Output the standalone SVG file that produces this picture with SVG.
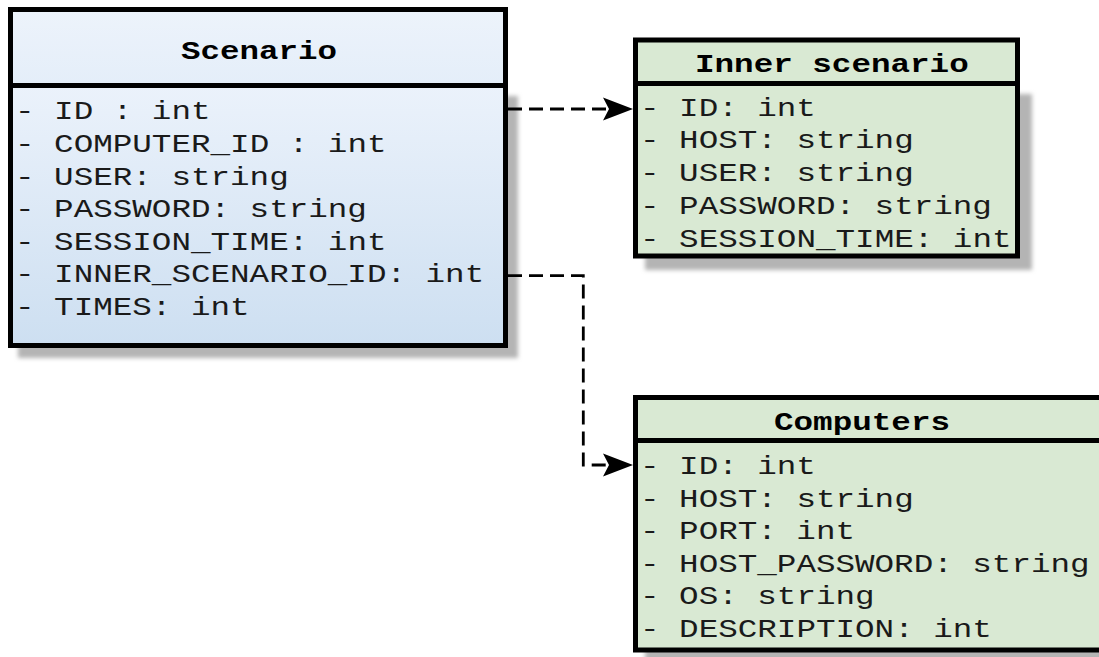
<svg xmlns="http://www.w3.org/2000/svg" width="1099" height="657" viewBox="0 0 1099 657">
  <defs>
    <linearGradient id="blueBody" x1="0" y1="0" x2="0" y2="1">
      <stop offset="0" stop-color="#ebf2fb"/>
      <stop offset="1" stop-color="#cddff1"/>
    </linearGradient>
    <linearGradient id="blueHead" x1="0" y1="0" x2="0" y2="1">
      <stop offset="0" stop-color="#edf3fb"/>
      <stop offset="1" stop-color="#e4eef9"/>
    </linearGradient>
    <filter id="soft" x="-10%" y="-10%" width="120%" height="120%">
      <feGaussianBlur stdDeviation="2.2"/>
    </filter>
    <marker id="arrow" markerUnits="userSpaceOnUse" markerWidth="32" markerHeight="26" refX="30" refY="12" orient="auto">
      <path d="M0,0.5 L30,12 L0,23.5 L6,12 Z" fill="#000"/>
    </marker>
  </defs>
  <style>
    .shadow { fill: #b4b4b4; filter: url(#soft); }
    .frame { fill: none; stroke: #000; stroke-width: 5; }
    .divider { stroke: #000; stroke-width: 5; }
    .green { fill: #d9e9d3; }
    .title { font-family: "Liberation Mono", "Courier New", monospace; font-weight: bold; font-size: 25px; fill: #000; }
    .attr { font-family: "Liberation Mono", "Courier New", monospace; font-size: 25px; fill: #1a1a1a; }
    .edge { fill: none; stroke: #000; stroke-width: 2.8; stroke-dasharray: 14 7; marker-end: url(#arrow); }
  </style>

  <!-- Scenario class -->
  <g id="scenario">
    <rect class="shadow" x="18" y="96" width="500" height="262"/>
    <rect x="10.5" y="9.5" width="495" height="76" fill="url(#blueHead)"/>
    <rect x="10.5" y="85.5" width="495" height="260" fill="url(#blueBody)"/>
    <rect class="frame" x="10.5" y="9.5" width="495" height="336"/>
    <line class="divider" x1="10.5" y1="85.5" x2="505.5" y2="85.5"/>
    <text class="title" x="181" y="59" textLength="156" lengthAdjust="spacingAndGlyphs">Scenario</text>
    <text class="attr" x="15" y="119.3" textLength="195.5" lengthAdjust="spacingAndGlyphs">- ID : int</text>
    <text class="attr" x="15" y="151.9" textLength="371.5" lengthAdjust="spacingAndGlyphs">- COMPUTER_ID : int</text>
    <text class="attr" x="15" y="184.5" textLength="273.7" lengthAdjust="spacingAndGlyphs">- USER: string</text>
    <text class="attr" x="15" y="217.2" textLength="351.9" lengthAdjust="spacingAndGlyphs">- PASSWORD: string</text>
    <text class="attr" x="15" y="249.8" textLength="371.5" lengthAdjust="spacingAndGlyphs">- SESSION_TIME: int</text>
    <text class="attr" x="15" y="282.4" textLength="469.2" lengthAdjust="spacingAndGlyphs">- INNER_SCENARIO_ID: int</text>
    <text class="attr" x="15" y="315" textLength="234.6" lengthAdjust="spacingAndGlyphs">- TIMES: int</text>
  </g>

  <!-- Inner scenario class -->
  <g id="inner-scenario">
    <rect class="shadow" x="645" y="94" width="387" height="176"/>
    <rect class="green" x="635.5" y="40" width="382" height="216"/>
    <rect class="frame" x="635.5" y="40" width="382" height="216"/>
    <line class="divider" x1="635.5" y1="83.5" x2="1017.5" y2="83.5"/>
    <text class="title" x="695" y="72" textLength="273.7" lengthAdjust="spacingAndGlyphs">Inner scenario</text>
    <text class="attr" x="640" y="115.7" textLength="175.9" lengthAdjust="spacingAndGlyphs">- ID: int</text>
    <text class="attr" x="640" y="148.4" textLength="273.7" lengthAdjust="spacingAndGlyphs">- HOST: string</text>
    <text class="attr" x="640" y="181.1" textLength="273.7" lengthAdjust="spacingAndGlyphs">- USER: string</text>
    <text class="attr" x="640" y="213.8" textLength="351.9" lengthAdjust="spacingAndGlyphs">- PASSWORD: string</text>
    <text class="attr" x="640" y="246.5" textLength="371.5" lengthAdjust="spacingAndGlyphs">- SESSION_TIME: int</text>
  </g>

  <!-- Computers class -->
  <g id="computers">
    <rect class="shadow" x="645" y="451" width="480" height="212"/>
    <rect class="green" x="635.5" y="397.5" width="480" height="252.5"/>
    <rect class="frame" x="635.5" y="397.5" width="480" height="252.5"/>
    <line class="divider" x1="635.5" y1="440.5" x2="1115.5" y2="440.5"/>
    <text class="title" x="774" y="430" textLength="176" lengthAdjust="spacingAndGlyphs">Computers</text>
    <text class="attr" x="640" y="474.3" textLength="175.9" lengthAdjust="spacingAndGlyphs">- ID: int</text>
    <text class="attr" x="640" y="506.8" textLength="273.7" lengthAdjust="spacingAndGlyphs">- HOST: string</text>
    <text class="attr" x="640" y="539.3" textLength="215" lengthAdjust="spacingAndGlyphs">- PORT: int</text>
    <text class="attr" x="640" y="571.8" textLength="449.6" lengthAdjust="spacingAndGlyphs">- HOST_PASSWORD: string</text>
    <text class="attr" x="640" y="604.3" textLength="234.6" lengthAdjust="spacingAndGlyphs">- OS: string</text>
    <text class="attr" x="640" y="636.8" textLength="351.9" lengthAdjust="spacingAndGlyphs">- DESCRIPTION: int</text>
  </g>

  <!-- Dependencies -->
  <g id="connectors">
    <path class="edge" d="M508,109 H633"/>
    <path class="edge" d="M508,275.7 H583.3 V465 H633"/>
  </g>
</svg>
